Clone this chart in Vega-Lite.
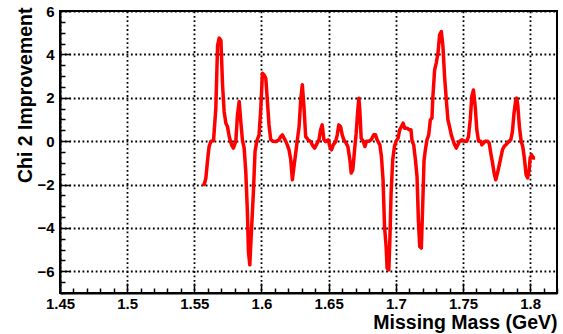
{
  "$schema": "https://vega.github.io/schema/vega-lite/v6.json",
  "width": 497,
  "height": 282,
  "autosize": {"type": "none"},
  "padding": {"left": 60, "top": 11, "right": 6, "bottom": 41},
  "background": "white",
  "config": {
    "view": {"stroke": "black", "strokeWidth": 2},
    "font": "Liberation Sans",
    "axis": {
      "labelFont": "Liberation Sans",
      "labelFontWeight": "bold",
      "labelFontSize": 15,
      "labelColor": "black",
      "titleFont": "Liberation Sans",
      "titleFontWeight": "bold",
      "titleFontSize": 19.5,
      "titleColor": "black",
      "domainColor": "black",
      "domainWidth": 2,
      "tickColor": "black",
      "tickWidth": 1.5,
      "gridColor": "black",
      "gridWidth": 1.8,
      "gridDash": [1.8, 2.6]
    }
  },
  "data": {
    "values": [
      {"mass": 1.5560, "chi2": -1.95}, {"mass": 1.5574, "chi2": -2.0}, {"mass": 1.5586, "chi2": -1.7},
      {"mass": 1.5600, "chi2": -0.8}, {"mass": 1.5610, "chi2": -0.25}, {"mass": 1.5624, "chi2": 0.0},
      {"mass": 1.5643, "chi2": 0.02}, {"mass": 1.5660, "chi2": 1.5}, {"mass": 1.5673, "chi2": 4.4},
      {"mass": 1.5685, "chi2": 4.75}, {"mass": 1.5698, "chi2": 4.65}, {"mass": 1.5710, "chi2": 2.6},
      {"mass": 1.5722, "chi2": 1.36}, {"mass": 1.5735, "chi2": 0.83}, {"mass": 1.5747, "chi2": 0.67},
      {"mass": 1.5760, "chi2": 0.2}, {"mass": 1.5777, "chi2": -0.17}, {"mass": 1.5791, "chi2": -0.32},
      {"mass": 1.5809, "chi2": 0.0}, {"mass": 1.5821, "chi2": 1.2}, {"mass": 1.5834, "chi2": 1.83},
      {"mass": 1.5846, "chi2": 0.9}, {"mass": 1.5858, "chi2": 0.06}, {"mass": 1.5871, "chi2": -0.32},
      {"mass": 1.5883, "chi2": -1.4}, {"mass": 1.5895, "chi2": -3.24}, {"mass": 1.5903, "chi2": -5.1},
      {"mass": 1.5913, "chi2": -5.7}, {"mass": 1.5925, "chi2": -4.17}, {"mass": 1.5940, "chi2": -2.32},
      {"mass": 1.5952, "chi2": -0.48}, {"mass": 1.5965, "chi2": 0.0}, {"mass": 1.5982, "chi2": 0.29},
      {"mass": 1.5995, "chi2": 1.52}, {"mass": 1.6007, "chi2": 3.13}, {"mass": 1.6020, "chi2": 3.05},
      {"mass": 1.6032, "chi2": 2.9}, {"mass": 1.6044, "chi2": 1.83}, {"mass": 1.6056, "chi2": 0.75},
      {"mass": 1.6069, "chi2": 0.06}, {"mass": 1.6086, "chi2": 0.0}, {"mass": 1.6106, "chi2": -0.02},
      {"mass": 1.6130, "chi2": 0.06}, {"mass": 1.6143, "chi2": 0.21}, {"mass": 1.6155, "chi2": 0.29},
      {"mass": 1.6168, "chi2": 0.14}, {"mass": 1.6180, "chi2": 0.0}, {"mass": 1.6192, "chi2": -0.17},
      {"mass": 1.6205, "chi2": -0.4}, {"mass": 1.6218, "chi2": -0.86}, {"mass": 1.6230, "chi2": -1.78},
      {"mass": 1.6242, "chi2": -1.17}, {"mass": 1.6255, "chi2": -0.55}, {"mass": 1.6267, "chi2": 0.06},
      {"mass": 1.6280, "chi2": 0.67}, {"mass": 1.6292, "chi2": 1.9}, {"mass": 1.6304, "chi2": 2.6},
      {"mass": 1.6316, "chi2": 1.6}, {"mass": 1.6329, "chi2": 0.21}, {"mass": 1.6348, "chi2": 0.06},
      {"mass": 1.6366, "chi2": -0.02}, {"mass": 1.6378, "chi2": -0.17}, {"mass": 1.6396, "chi2": -0.32},
      {"mass": 1.6415, "chi2": -0.09}, {"mass": 1.6428, "chi2": 0.06}, {"mass": 1.6440, "chi2": 0.52},
      {"mass": 1.6452, "chi2": 0.75}, {"mass": 1.6465, "chi2": 0.06}, {"mass": 1.6477, "chi2": -0.02},
      {"mass": 1.6497, "chi2": 0.06}, {"mass": 1.6509, "chi2": -0.25}, {"mass": 1.6522, "chi2": -0.4},
      {"mass": 1.6534, "chi2": -0.17}, {"mass": 1.6552, "chi2": -0.02}, {"mass": 1.6564, "chi2": 0.29},
      {"mass": 1.6576, "chi2": 0.75}, {"mass": 1.6589, "chi2": 0.67}, {"mass": 1.6601, "chi2": 0.29},
      {"mass": 1.6613, "chi2": 0.06}, {"mass": 1.6630, "chi2": -0.09}, {"mass": 1.6643, "chi2": -0.25},
      {"mass": 1.6658, "chi2": -0.86}, {"mass": 1.6668, "chi2": -1.47}, {"mass": 1.6680, "chi2": -1.32},
      {"mass": 1.6693, "chi2": -0.4}, {"mass": 1.6705, "chi2": 0.37}, {"mass": 1.6717, "chi2": 1.44},
      {"mass": 1.6725, "chi2": 1.98}, {"mass": 1.6732, "chi2": 1.44}, {"mass": 1.6742, "chi2": 0.14},
      {"mass": 1.6757, "chi2": 0.0}, {"mass": 1.6770, "chi2": -0.25}, {"mass": 1.6782, "chi2": 0.0},
      {"mass": 1.6799, "chi2": 0.0}, {"mass": 1.6816, "chi2": 0.06}, {"mass": 1.6836, "chi2": 0.29},
      {"mass": 1.6849, "chi2": 0.29}, {"mass": 1.6861, "chi2": 0.06}, {"mass": 1.6881, "chi2": -0.17},
      {"mass": 1.6893, "chi2": -0.71}, {"mass": 1.6905, "chi2": -1.78}, {"mass": 1.6916, "chi2": -3.94},
      {"mass": 1.6928, "chi2": -4.86}, {"mass": 1.6935, "chi2": -5.85}, {"mass": 1.6948, "chi2": -5.93},
      {"mass": 1.6955, "chi2": -4.7}, {"mass": 1.6965, "chi2": -2.4}, {"mass": 1.6977, "chi2": -0.86},
      {"mass": 1.6990, "chi2": -0.25}, {"mass": 1.7002, "chi2": 0.0}, {"mass": 1.7017, "chi2": 0.14},
      {"mass": 1.7029, "chi2": 0.52}, {"mass": 1.7042, "chi2": 0.67}, {"mass": 1.7054, "chi2": 0.83},
      {"mass": 1.7066, "chi2": 0.6}, {"mass": 1.7084, "chi2": 0.6}, {"mass": 1.7101, "chi2": 0.52},
      {"mass": 1.7113, "chi2": 0.52}, {"mass": 1.7121, "chi2": 0.0}, {"mass": 1.7133, "chi2": -0.17},
      {"mass": 1.7146, "chi2": -0.86}, {"mass": 1.7158, "chi2": -1.63}, {"mass": 1.7168, "chi2": -3.63},
      {"mass": 1.7178, "chi2": -4.86}, {"mass": 1.7190, "chi2": -4.93}, {"mass": 1.7200, "chi2": -3.0},
      {"mass": 1.7210, "chi2": -0.9}, {"mass": 1.7220, "chi2": -0.4}, {"mass": 1.7232, "chi2": 0.06},
      {"mass": 1.7245, "chi2": 0.29}, {"mass": 1.7257, "chi2": 0.98}, {"mass": 1.7269, "chi2": 1.06},
      {"mass": 1.7276, "chi2": 2.06}, {"mass": 1.7289, "chi2": 3.29}, {"mass": 1.7301, "chi2": 3.6},
      {"mass": 1.7314, "chi2": 4.06}, {"mass": 1.7326, "chi2": 4.9}, {"mass": 1.7339, "chi2": 5.05},
      {"mass": 1.7351, "chi2": 4.36}, {"mass": 1.7363, "chi2": 2.98}, {"mass": 1.7376, "chi2": 1.9},
      {"mass": 1.7388, "chi2": 0.98}, {"mass": 1.7400, "chi2": 0.67}, {"mass": 1.7413, "chi2": 0.29},
      {"mass": 1.7425, "chi2": 0.06}, {"mass": 1.7438, "chi2": -0.17}, {"mass": 1.7450, "chi2": -0.32},
      {"mass": 1.7462, "chi2": -0.17}, {"mass": 1.7475, "chi2": 0.0}, {"mass": 1.7492, "chi2": 0.06},
      {"mass": 1.7510, "chi2": 0.0}, {"mass": 1.7529, "chi2": 0.0}, {"mass": 1.7541, "chi2": 0.21},
      {"mass": 1.7554, "chi2": 0.98}, {"mass": 1.7566, "chi2": 2.06}, {"mass": 1.7578, "chi2": 2.36},
      {"mass": 1.7591, "chi2": 1.6}, {"mass": 1.7603, "chi2": 0.52}, {"mass": 1.7616, "chi2": 0.0},
      {"mass": 1.7633, "chi2": 0.0}, {"mass": 1.7640, "chi2": -0.17}, {"mass": 1.7653, "chi2": -0.09},
      {"mass": 1.7665, "chi2": 0.0}, {"mass": 1.7683, "chi2": 0.0}, {"mass": 1.7695, "chi2": -0.09},
      {"mass": 1.7707, "chi2": -0.55}, {"mass": 1.7720, "chi2": -1.0}, {"mass": 1.7732, "chi2": -1.47},
      {"mass": 1.7744, "chi2": -1.78}, {"mass": 1.7757, "chi2": -1.47}, {"mass": 1.7770, "chi2": -1.1},
      {"mass": 1.7781, "chi2": -0.78}, {"mass": 1.7794, "chi2": -0.4}, {"mass": 1.7806, "chi2": -0.25},
      {"mass": 1.7819, "chi2": -0.17}, {"mass": 1.7831, "chi2": -0.09}, {"mass": 1.7843, "chi2": 0.0},
      {"mass": 1.7856, "chi2": 0.06}, {"mass": 1.7868, "chi2": 0.44}, {"mass": 1.7880, "chi2": 1.29},
      {"mass": 1.7893, "chi2": 1.9}, {"mass": 1.7900, "chi2": 1.98}, {"mass": 1.7908, "chi2": 1.67},
      {"mass": 1.7920, "chi2": 0.67}, {"mass": 1.7933, "chi2": 0.0}, {"mass": 1.7945, "chi2": -0.25},
      {"mass": 1.7957, "chi2": -0.78}, {"mass": 1.7970, "chi2": -1.55}, {"mass": 1.7982, "chi2": -1.7},
      {"mass": 1.7993, "chi2": -1.32}, {"mass": 1.8000, "chi2": -0.78}, {"mass": 1.8011, "chi2": -0.63},
      {"mass": 1.8024, "chi2": -0.78}, {"mass": 1.8037, "chi2": -0.78}
    ]
  },
  "mark": {"type": "line", "color": "#ff0000", "strokeWidth": 3.5, "strokeJoin": "round", "clip": true},
  "encoding": {
    "x": {
      "field": "mass",
      "type": "quantitative",
      "scale": {"domain": [1.45, 1.82], "nice": false, "zero": false},
      "axis": {
        "title": "Missing Mass (GeV)",
        "titleX": 497,
        "titleY": 35,
        "titleAlign": "right",
        "titleBaseline": "alphabetic",
        "values": [1.45, 1.46, 1.47, 1.48, 1.49, 1.5, 1.51, 1.52, 1.53, 1.54, 1.55, 1.56, 1.57, 1.58, 1.59, 1.6, 1.61, 1.62, 1.63, 1.64, 1.65, 1.66, 1.67, 1.68, 1.69, 1.7, 1.71, 1.72, 1.73, 1.74, 1.75, 1.76, 1.77, 1.78, 1.79, 1.8, 1.81, 1.82],
        "labelExpr": "abs(datum.value * 20 - round(datum.value * 20)) < 0.001 ? format(datum.value, '.3~g') : ''",
        "labelPadding": 13.5,
        "labelFlush": false,
        "labelOverlap": false,
        "tickSize": {"condition": {"test": "abs(datum.value * 20 - round(datum.value * 20)) < 0.001", "value": -10}, "value": -5},
        "gridOpacity": {"condition": {"test": "abs(datum.value * 20 - round(datum.value * 20)) < 0.001", "value": 1}, "value": 0}
      }
    },
    "y": {
      "field": "chi2",
      "type": "quantitative",
      "scale": {"domain": [-7, 6], "nice": false, "zero": false},
      "axis": {
        "title": "Chi 2 Improvement",
        "titleX": -35,
        "titleY": -4,
        "titleAngle": -90,
        "titleAlign": "right",
        "titleBaseline": "middle",
        "values": [-7, -6.5, -6, -5.5, -5, -4.5, -4, -3.5, -3, -2.5, -2, -1.5, -1, -0.5, 0, 0.5, 1, 1.5, 2, 2.5, 3, 3.5, 4, 4.5, 5, 5.5, 6],
        "labelExpr": "datum.value % 2 == 0 ? format(datum.value, 'd') : ''",
        "labelPadding": 16,
        "labelFlush": false,
        "labelOverlap": false,
        "tickSize": {"condition": {"test": "datum.value % 2 == 0", "value": -10}, "value": -5},
        "gridOpacity": {"condition": {"test": "datum.value % 2 == 0", "value": 1}, "value": 0}
      }
    }
  }
}
